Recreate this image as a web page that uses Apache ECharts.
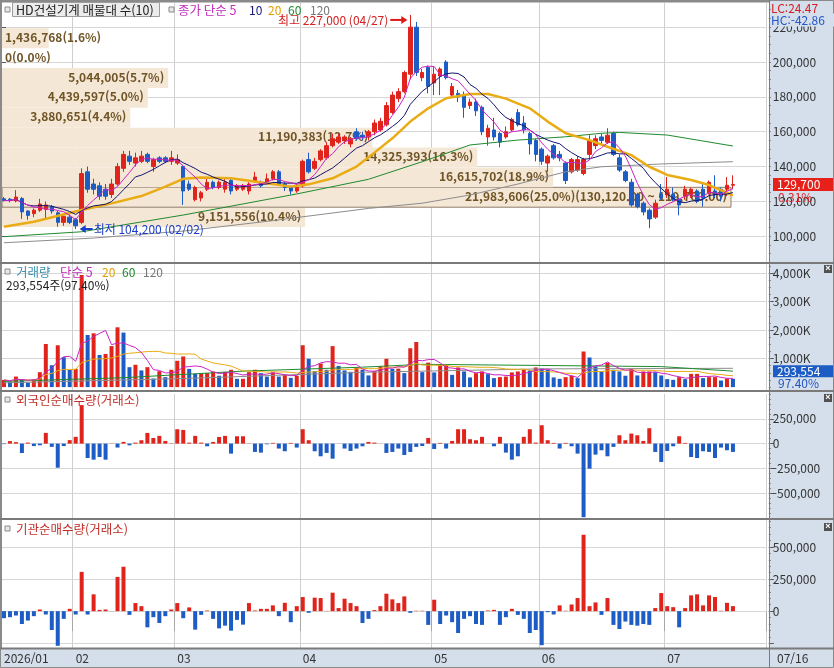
<!DOCTYPE html>
<html lang="ko">
<head>
<meta charset="UTF-8">
<title>HD건설기계</title>
<style>
  html, body { margin:0; padding:0; background:#fff; }
  #chart { width:834px; height:668px; }
</style>
</head>
<body>
<div id="chart"></div>
<script src="https://cdn.jsdelivr.net/npm/echarts@6.0.0/dist/echarts.min.js"></script>
<script>
// 일봉 시가/고가/저가/종가 (천원)
var openP = [121.5,121.3,120.3,121.7,114.5,113,115,115.5,117,113.5,
  108,111,109.5,108,137,130,129,127,124,130,
  139,146,142,143,147,140,145,145,143,142,
  140,130,121,122,127,131,128,127,132,127,
  127,126,132,131,131,133,137,130,128,126,
  129,144,139,144,145,152,154,155,153,160,
  158,157,160,161,164,171,179,183,193,220,
  191,197,188,192,200,181,182,181,175,177,
  174,157,161,159,157,161,171,165,159,155,
  150,142,152,147,142,137,138,136,147,152,
  157,154,159,145,137,131,124,119,115,111,
  124,123.7,124,121,123,124,126,127,125,126,
  127,127,129.3];
var highP = [122.5,122,126.5,122.5,115,116,121.5,120,118,114.5,
  112,112.5,110.5,139,140,133,131,130,133,142,
  149,149,148,149,148,145,146,146,149,147,
  141,132,129,126,134,132,132,133,133,130,
  130,131,137,132,136,138,138,131,129,130,
  144,148,145,150,154,159,159,158,157,162,
  160,161,167,168,177,183,185,195,227,223,
  196,198,197,197,201,188,184,183,179,179,
  175,164,168,160,163,168,173,169,160,156,
  151,147,153,149,143,145,146,145,158,158,
  159,162,160,147,138,133,125,120,116,121,
  130,134,128,122,129,128,127,130,132,135,
  128,134,135];
var lowP = [120,119.5,119.5,110,109.5,111,114,110,113,105.5,
  106,107,104.2,107,125,124,121,121,122,129,
  137,141,140,142,142,137,142,142,141,141,
  118,126,120,120,126,127,127,125,124,126,
  126,124,131,128,130,132,129,126,124,125,
  128,136,138,143,144,151,153,153,151,155,
  155,155,158,160,163,170,177,182,190,192,
  189,182,181,181,190,180,177,168,173,169,
  158,152,155,151,156,160,163,159,147,143,
  141,137,144,143,130,136,137,135,144,150,
  153,153,146,137,131,117,116,112,104.7,110,
  121,122,120,112,121,122,119,117,124,122,
  120,123,127];
var closeP = [120.5,120.5,122.5,114,112,115,118.5,118,114.5,108,
  111.5,108,106,136,127,127,123,123,130,140,
  147,143,145,146,143,144,143,143,145,144,
  126,127,128,125,131,128,131,131,126,129,
  129,130,134,129,133,137,130,128,126,128,
  143,137,143,149,152,156,157,157,156,156,
  157,160,165,166,175,181,183,194,220,194,
  194,186,193,196,191,186,180,174,177,172,
  160,162,157,154,160,167,164,161,153,147,
  143,146,145,145,132,144,144,144,155,156,
  155,158,147,138,132,118,117,114,110,119,
  122,127,121,118,127,127,120,122,131,124,
  123,129.3,129.7];

// 거래량 (천주)
var volume = [252,193,370,252,160,275,525,1515,768,1470,
  1050,608,640,3937,1830,1890,1130,1165,1440,2100,
  1915,700,785,585,700,300,560,350,608,925,
  1075,640,465,490,490,550,400,535,608,290,
  290,525,608,490,370,515,370,430,325,400,
  1470,995,560,830,608,1440,745,585,535,690,
  608,410,560,725,995,640,650,490,1365,1585,
  525,860,515,770,770,430,690,550,340,490,
  550,455,315,350,370,515,550,608,585,690,
  655,608,340,290,350,400,315,1250,1040,725,
  550,850,608,550,400,640,410,550,550,525,
  410,280,255,350,280,465,465,315,350,350,
  230,301.39,293.554];

// 외국인 순매수 (천주)
var foreignNet = [-5,25,15,-95,10,-25,-17,108,-33,-243,
  -25,35,68,388,-145,-162,-135,-162,2,-40,
  17,-17,10,34,108,57,78,27,3,145,
  138,10,78,10,-27,17,67,78,-101,74,
  74,2,-84,-91,-7,7,-50,-77,7,-40,
  145,34,-77,-128,-94,-152,1,-50,-74,-50,
  -27,17,10,1,-94,-84,-50,-115,-84,-33,
  -24,57,-54,7,-50,27,145,145,44,34,
  68,1,-27,68,-91,-162,-128,68,145,10,
  185,34,7,-50,7,-27,-101,-742,-253,-111,
  -67,-128,-33,84,34,101,84,27,155,-84,
  -185,-74,-27,74,7,-135,-145,-77,-84,-145,
  -40,-67,-84];

// 기관 순매수 (천주)
var instNet = [-55,-47,-34,-100,-73,-39,13,-26,-147,-270,
  -60,18,-26,306,-26,131,10,13,1,267,
  346,-29,63,39,-126,-47,-92,-39,13,63,
  -55,29,-144,-29,5,-60,-134,-113,-152,-68,
  -105,63,5,18,18,45,-39,65,-86,39,
  110,-13,105,102,2,144,24,97,63,39,
  -92,-60,8,39,136,92,63,115,-13,3,
  3,-107,89,-100,-34,-86,-170,-60,-39,-100,
  -107,5,10,-107,-47,18,-29,-60,-170,-147,
  -265,-8,-26,45,3,52,102,595,39,68,
  -29,102,-107,-139,-81,-107,-113,-100,-107,24,
  141,39,31,-126,24,123,131,45,123,110,
  3,65,39];

// 차트에서 읽은 이동평균 [봉번호, 값]
var ma20Pts = [[0,105.5],[5,108.4],[13,115.1],[18,118.9],[23,123.1],[27,128.5],[30,133],[33,133.8],[38,133.3],[44,130.4],[48,128.5],[51,129.8],[55,133.3],[59,140],[62,148],[65,156.2],[68,165.8],[71,173.4],[74,179.2],[78,181.6],[81,181.6],[84,179],[88,173.4],[91,165.8],[94,159.1],[98,155.2],[101,151.4],[105,146.6],[108,139.9],[111,135.2],[115,132.3],[118,129.4],[122,123.5]];
var ma60Pts = [[0,99.8],[13,102.6],[30,112.2],[49,124.3],[61,132.7],[70,142.8],[78,152.4],[86,155.2],[94,157.1],[100,159.1],[103,159.6],[111,158.1],[122,151.8]];
var ma120Pts = [[0,96.3],[15,99],[30,103],[45,109],[61,116],[70,119],[78,123.7],[86,130],[94,137],[100,139.9],[110,141.5],[122,142.8]];
var volMa60Pts = [[0,200],[20,330],[40,560],[60,700],[70,800],[90,760],[110,720],[122,560]];
var volMa120Pts = [[0,150],[30,300],[60,520],[90,640],[122,660]];

// 매물대 (아래에서 위로)
var bandLow  = [105.3,116.7,128.1,139.5,150.9,162.3,173.7,185.1,196.5,207.9];
var bandHigh = [116.7,128.1,139.5,150.9,162.3,173.7,185.1,196.5,207.9,219.3];
var bandVol  = [9151556,21983606,16615702,14325393,11190383,3880651,4439597,5044005,0,1436768];
var bandPct  = [10.4,25.0,18.9,16.3,12.7,4.4,5.0,5.7,0.0,1.6];
var maxBandText = '(130,120.00 ~ 119,760.00)';

var monthStarts = [0,12,29,50,72,90,111];
var monthLabels = ['2026/01','02','03','04','05','06','07'];
var priceTicks = [100,120,140,160,180,200,220];
var volTicks = [1000,2000,3000,4000];
var frgTicks = [-500,-250,0,250];
var instTicks = [-250,0,250,500];
var instLabels = [0,250,500];

var chart = echarts.init(document.getElementById('chart'));
var FONT = '"Noto Sans CJK KR", "Noto Sans", sans-serif';
var RED = '#e0241b', BLUE = '#1d5cc4';
var N = 128;
var cats = [];
for (var i = 0; i < N; i++) cats.push('d' + i);

function ma(arr, n) {
  return arr.map(function (v, i) {
    var s = 0, c = 0;
    for (var j = Math.max(0, i - n + 1); j <= i; j++) { s += arr[j]; c++; }
    return +(s / c).toFixed(2);
  });
}
function comma(v) { return Math.round(v).toLocaleString('en-US'); }
function isMonth(i) { return monthStarts.indexOf(i) >= 0; }
function steps(a, b, s) { var r = []; for (var v = a; v <= b; v += s) r.push(v); return r; }

var gridL = 1, gridW = 764.8;
var grids = [
  { left: gridL, width: gridW, top: 3, height: 259 },
  { left: gridL, width: gridW, top: 264, height: 126 },
  { left: gridL, width: gridW, top: 394, height: 124 },
  { left: gridL, width: gridW, top: 520, height: 128 }
];

function xAx(g, bottom) {
  return {
    type: 'category', gridIndex: g, data: cats, boundaryGap: true,
    axisLine: { show: false },
    axisTick: bottom ? { show: true, interval: function (i) { return isMonth(i) && i > 0; }, length: 20, lineStyle: { color: '#a8a8a8' } } : { show: false },
    axisLabel: bottom ? {
      show: true, interval: function (i) { return isMonth(i); }, align: 'left', margin: 4,
      fontFamily: FONT, fontSize: 12, color: '#333',
      formatter: function (v, i) { return monthLabels[monthStarts.indexOf(i)]; }
    } : { show: false },
    splitLine: { show: true, interval: function (i) { return isMonth(i) && i > 0; }, lineStyle: { color: '#cfcfcf' } }
  };
}
function yAx(g, min, max, ticks, labels, fmt) {
  return {
    type: 'value', gridIndex: g, position: 'right', offset: 3, min: min, max: max, scale: true,
    axisLine: { show: true, lineStyle: { color: '#7d7d7d' } },
    axisTick: { show: true, length: 5, customValues: ticks, lineStyle: { color: '#555' } },
    axisLabel: { show: true, customValues: labels || ticks, margin: 4, fontFamily: FONT, fontSize: 12, color: '#333', formatter: fmt },
    splitLine: { show: true, lineStyle: { color: '#d6d6d6' } }
  };
}
function minorAx(g, min, max, ticks) {
  return {
    type: 'value', gridIndex: g, position: 'right', offset: 3, min: min, max: max, scale: true,
    axisLine: { show: false },
    axisTick: { show: true, length: 2, customValues: ticks, lineStyle: { color: '#777' } },
    axisLabel: { show: false }, splitLine: { show: false }
  };
}

var candleData = openP.map(function (o, i) { return [o, closeP[i], lowP[i], highP[i]]; });
var volData = volume.map(function (v, i) {
  var up = i === 0 ? true : v >= volume[i - 1];
  return { value: v, itemStyle: { color: up ? RED : BLUE } };
});
function signBars(arr) {
  return arr.map(function (v) { return { value: v, itemStyle: { color: v >= 0 ? RED : BLUE } }; });
}
var maxBand = bandPct.indexOf(Math.max.apply(null, bandPct));
var bandData = bandPct.map(function (p, i) { return [p, bandLow[i], bandHigh[i]]; });

function lineS(x, y, data, color, w) {
  return { type: 'line', xAxisIndex: x, yAxisIndex: y, data: data, symbol: 'none', silent: true,
    lineStyle: { color: color, width: w || 1 }, z: 4, animation: false };
}

var option = {
  animation: false,
  backgroundColor: '#ffffff',
  grid: grids,
  xAxis: [xAx(0, false), xAx(1, false), xAx(2, false), xAx(3, true),
    { type: 'value', gridIndex: 0, min: 0, max: 25 * gridW / 729, show: false }],
  yAxis: [
    yAx(0, 85.26, 233.85, priceTicks, null, function (v) { return comma(v * 1000); }),
    yAx(1, -102, 4324, volTicks, null, function (v) { return comma(v) + 'K'; }),
    yAx(2, -750, 500, frgTicks, null, function (v) { return comma(v * 1000); }),
    yAx(3, -287, 710, instTicks, instLabels, function (v) { return comma(v * 1000); }),
    minorAx(0, 85.26, 233.85, steps(90, 230, 5)),
    minorAx(1, -102, 4324, steps(0, 4250, 250)),
    minorAx(2, -750, 500, steps(-700, 500, 50)),
    minorAx(3, -287, 710, steps(-250, 700, 50))
  ],
  series: [
    {
      type: 'custom', xAxisIndex: 4, yAxisIndex: 0, data: bandData, z: 1, silent: true,
      renderItem: function (params, api) {
        var i = params.dataIndex;
        var p = api.value(0);
        var a = api.coord([0, api.value(2)]);
        var b = api.coord([p, api.value(1)]);
        var txt = comma(bandVol[i]) + '(' + p.toFixed(1) + '%)' + (i === maxBand ? maxBandText : '');
        var fits = p > 3;
        return { type: 'group', children: [
          { type: 'rect', shape: { x: a[0] + 1, y: a[1], width: Math.max(b[0] - a[0], 0), height: b[1] - a[1] },
            style: { fill: '#f5e7d5', stroke: i === maxBand ? '#8e7e6c' : null, lineWidth: 1 } },
          { type: 'text', x: fits ? b[0] - 3 : a[0] + 4, y: (a[1] + b[1]) / 2 - 1,
            style: { text: txt, fill: '#6f5426', font: 'bold 12px ' + FONT, align: fits ? 'right' : 'left', verticalAlign: 'middle' } }
        ] };
      }
    },
    {
      type: 'candlestick', xAxisIndex: 0, yAxisIndex: 0, data: candleData, barWidth: 4, z: 3,
      itemStyle: { color: RED, color0: BLUE, borderColor: RED, borderColor0: BLUE, borderWidth: 1 }
    },
    lineS(0, 0, ma120Pts, '#8c8c8c', 1),
    lineS(0, 0, ma60Pts, '#1f8a2e', 1),
    lineS(0, 0, ma20Pts, '#e9ac14', 2.5),
    lineS(0, 0, ma(closeP, 10), '#14146e', 1),
    lineS(0, 0, ma(closeP, 5), '#cc22c4', 1),
    { type: 'bar', xAxisIndex: 1, yAxisIndex: 1, data: volData, barWidth: 4, z: 2 },
    lineS(1, 1, volMa120Pts, '#8c8c8c', 1),
    lineS(1, 1, volMa60Pts, '#1f8a2e', 1),
    lineS(1, 1, ma(volume, 20), '#e9ac14', 1),
    lineS(1, 1, ma(volume, 5), '#cc22c4', 1),
    { type: 'bar', xAxisIndex: 2, yAxisIndex: 2, data: signBars(foreignNet), barWidth: 4, z: 2 },
    { type: 'bar', xAxisIndex: 3, yAxisIndex: 3, data: signBars(instNet), barWidth: 4, z: 2 }
  ]
};
chart.setOption(option);

// 보조 그래픽: 배경, 범례, 가격표시
var AXBG = '#d5dfeb';
function txt(x, y, s, color, extra) {
  var st = { text: s, fill: color, font: '12px ' + FONT, verticalAlign: 'middle' };
  if (extra) for (var k in extra) st[k] = extra[k];
  return { type: 'text', x: x, y: y, z: 50, style: st };
}
function icon(x, y) {
  return { type: 'rect', shape: { x: x, y: y, width: 5, height: 5 }, z: 50, style: { fill: '#e8e8e8', stroke: '#8a8a8a', lineWidth: 1 } };
}
function closeBox(y) {
  return { type: 'group', z: 50, children: [
    { type: 'rect', shape: { x: 824, y: y - 4, width: 8, height: 8 }, style: { fill: '#505050' } },
    { type: 'text', x: 828, y: y, style: { text: '×', fill: '#fff', font: 'bold 9px sans-serif', align: 'center', verticalAlign: 'middle' } }
  ] };
}
var last = closeP.length - 1;
var yClose = chart.convertToPixel({ yAxisIndex: 0 }, closeP[last]);
var yVol = chart.convertToPixel({ yAxisIndex: 1 }, volume[last]);
var hiIdx = highP.indexOf(Math.max.apply(null, highP));
var loIdx = lowP.indexOf(Math.min.apply(null, lowP));
var hiPt = chart.convertToPixel({ xAxisIndex: 0, yAxisIndex: 0 }, [hiIdx, highP[hiIdx]]);
var loPt = chart.convertToPixel({ xAxisIndex: 0, yAxisIndex: 0 }, [loIdx, lowP[loIdx]]);
var volChg = (volume[last] / volume[last - 1] * 100).toFixed(2);
var priceChg = ((closeP[last] / closeP[last - 1] - 1) * 100).toFixed(2);

var g = [
  { type: 'rect', shape: { x: 769, y: 0, width: 65, height: 648 }, z: -10, style: { fill: AXBG } },
  { type: 'rect', shape: { x: 0, y: 648, width: 834, height: 20 }, z: -10, style: { fill: AXBG } },
  { type: 'rect', shape: { x: 0.5, y: 0.5, width: 833, height: 667 }, z: 40, style: { fill: null, stroke: '#8a8a8a', lineWidth: 1 } },
  { type: 'line', shape: { x1: 0, y1: 1.5, x2: 769, y2: 1.5 }, z: 40, style: { stroke: '#8a8a8a', lineWidth: 2 } },
  { type: 'line', shape: { x1: 1, y1: 0, x2: 1, y2: 648 }, z: 40, style: { stroke: '#8a8a8a', lineWidth: 2 } },
  { type: 'line', shape: { x1: 0, y1: 263, x2: 834, y2: 263 }, z: 40, style: { stroke: '#7a7a7a', lineWidth: 2 } },
  { type: 'line', shape: { x1: 0, y1: 391, x2: 834, y2: 391 }, z: 40, style: { stroke: '#7a7a7a', lineWidth: 2 } },
  { type: 'line', shape: { x1: 0, y1: 519, x2: 834, y2: 519 }, z: 40, style: { stroke: '#7a7a7a', lineWidth: 2 } },
  { type: 'line', shape: { x1: 0, y1: 648.5, x2: 834, y2: 648.5 }, z: 40, style: { stroke: '#7a7a7a', lineWidth: 2 } },
  { type: 'line', shape: { x1: 769.5, y1: 0, x2: 769.5, y2: 668 }, z: 40, style: { stroke: '#7a7a7a', lineWidth: 1 } },

  icon(5, 7),
  { type: 'rect', shape: { x: 12.5, y: 2.5, width: 147, height: 14 }, z: 49, style: { fill: '#ececec', stroke: '#9c9c9c', lineWidth: 1 } },
  txt(16, 10, 'HD건설기계 매물대 수(10)', '#222', { font: '12.5px ' + FONT }),
  icon(169, 7),
  txt(178, 10, '종가 단순 5', '#c22abb', { font: '12.5px ' + FONT }),
  txt(249, 10, '10', '#1a1a80'),
  txt(268, 10, '20', '#e0a000'),
  txt(288, 10, '60', '#1f8a2e'),
  txt(310, 10, '120', '#777'),

  txt(hiPt[0] - 22, hiPt[1] + 5, '최고 ' + comma(highP[hiIdx] * 1000) + ' (04/27)', '#d42020', { align: 'right' }),
  { type: 'line', shape: { x1: hiPt[0] - 20, y1: hiPt[1] + 5, x2: hiPt[0] - 8, y2: hiPt[1] + 5 }, z: 50, style: { stroke: '#e01818', lineWidth: 2 } },
  { type: 'polygon', shape: { points: [[hiPt[0] - 3, hiPt[1] + 5], [hiPt[0] - 9, hiPt[1] + 1], [hiPt[0] - 9, hiPt[1] + 9]] }, z: 50, style: { fill: '#e01818' } },
  { type: 'polygon', shape: { points: [[loPt[0] + 4, loPt[1]], [loPt[0] + 10, loPt[1] - 4], [loPt[0] + 10, loPt[1] + 4]] }, z: 50, style: { fill: '#1a3cc8' } },
  { type: 'line', shape: { x1: loPt[0] + 9, y1: loPt[1], x2: loPt[0] + 17, y2: loPt[1] }, z: 50, style: { stroke: '#1a3cc8', lineWidth: 2 } },
  txt(loPt[0] + 18, loPt[1], '최저 ' + comma(lowP[loIdx] * 1000) + ' (02/02)', '#1a3cc8'),

  txt(771, 8, 'LC:24.47', '#d42020'),
  txt(771, 20, 'HC:-42.86', '#2256c4', { backgroundColor: AXBG, padding: [0, 20, 1, 0] }),
  { type: 'rect', shape: { x: 773, y: yClose - 6.5, width: 60, height: 13 }, z: 50, style: { fill: '#e8201a' } },
  txt(777, yClose, comma(closeP[last] * 1000), '#fff'),
  txt(778, yClose + 13, priceChg + '%', '#e02020'),

  icon(5, 269),
  txt(16, 272, '거래량', '#3b8db0', { font: '12.5px ' + FONT }),
  txt(60, 272, '단순 5', '#c22abb', { font: '12.5px ' + FONT }),
  txt(102, 272, '20', '#e0a000'),
  txt(122, 272, '60', '#1f8a2e'),
  txt(143, 272, '120', '#777'),
  txt(6, 285, comma(volume[last] * 1000) + '주(' + volChg + '%)', '#222'),
  { type: 'rect', shape: { x: 773, y: yVol - 13.5, width: 60, height: 12 }, z: 50, style: { fill: '#1d5cc4' } },
  txt(777, yVol - 7.5, comma(volume[last] * 1000), '#fff'),
  txt(778, yVol + 4.5, volChg + '%', '#2256c4'),
  closeBox(269),

  icon(5, 397),
  txt(16, 400, '외국인순매수량(거래소)', '#c0302a', { font: '12.5px ' + FONT }),
  closeBox(398),
  icon(5, 526),
  txt(16, 529, '기관순매수량(거래소)', '#c0302a', { font: '12.5px ' + FONT }),
  closeBox(527),
  txt(777, 658, '07/16', '#333')
];
chart.setOption({ graphic: { elements: g } });
</script>
</body>
</html>
